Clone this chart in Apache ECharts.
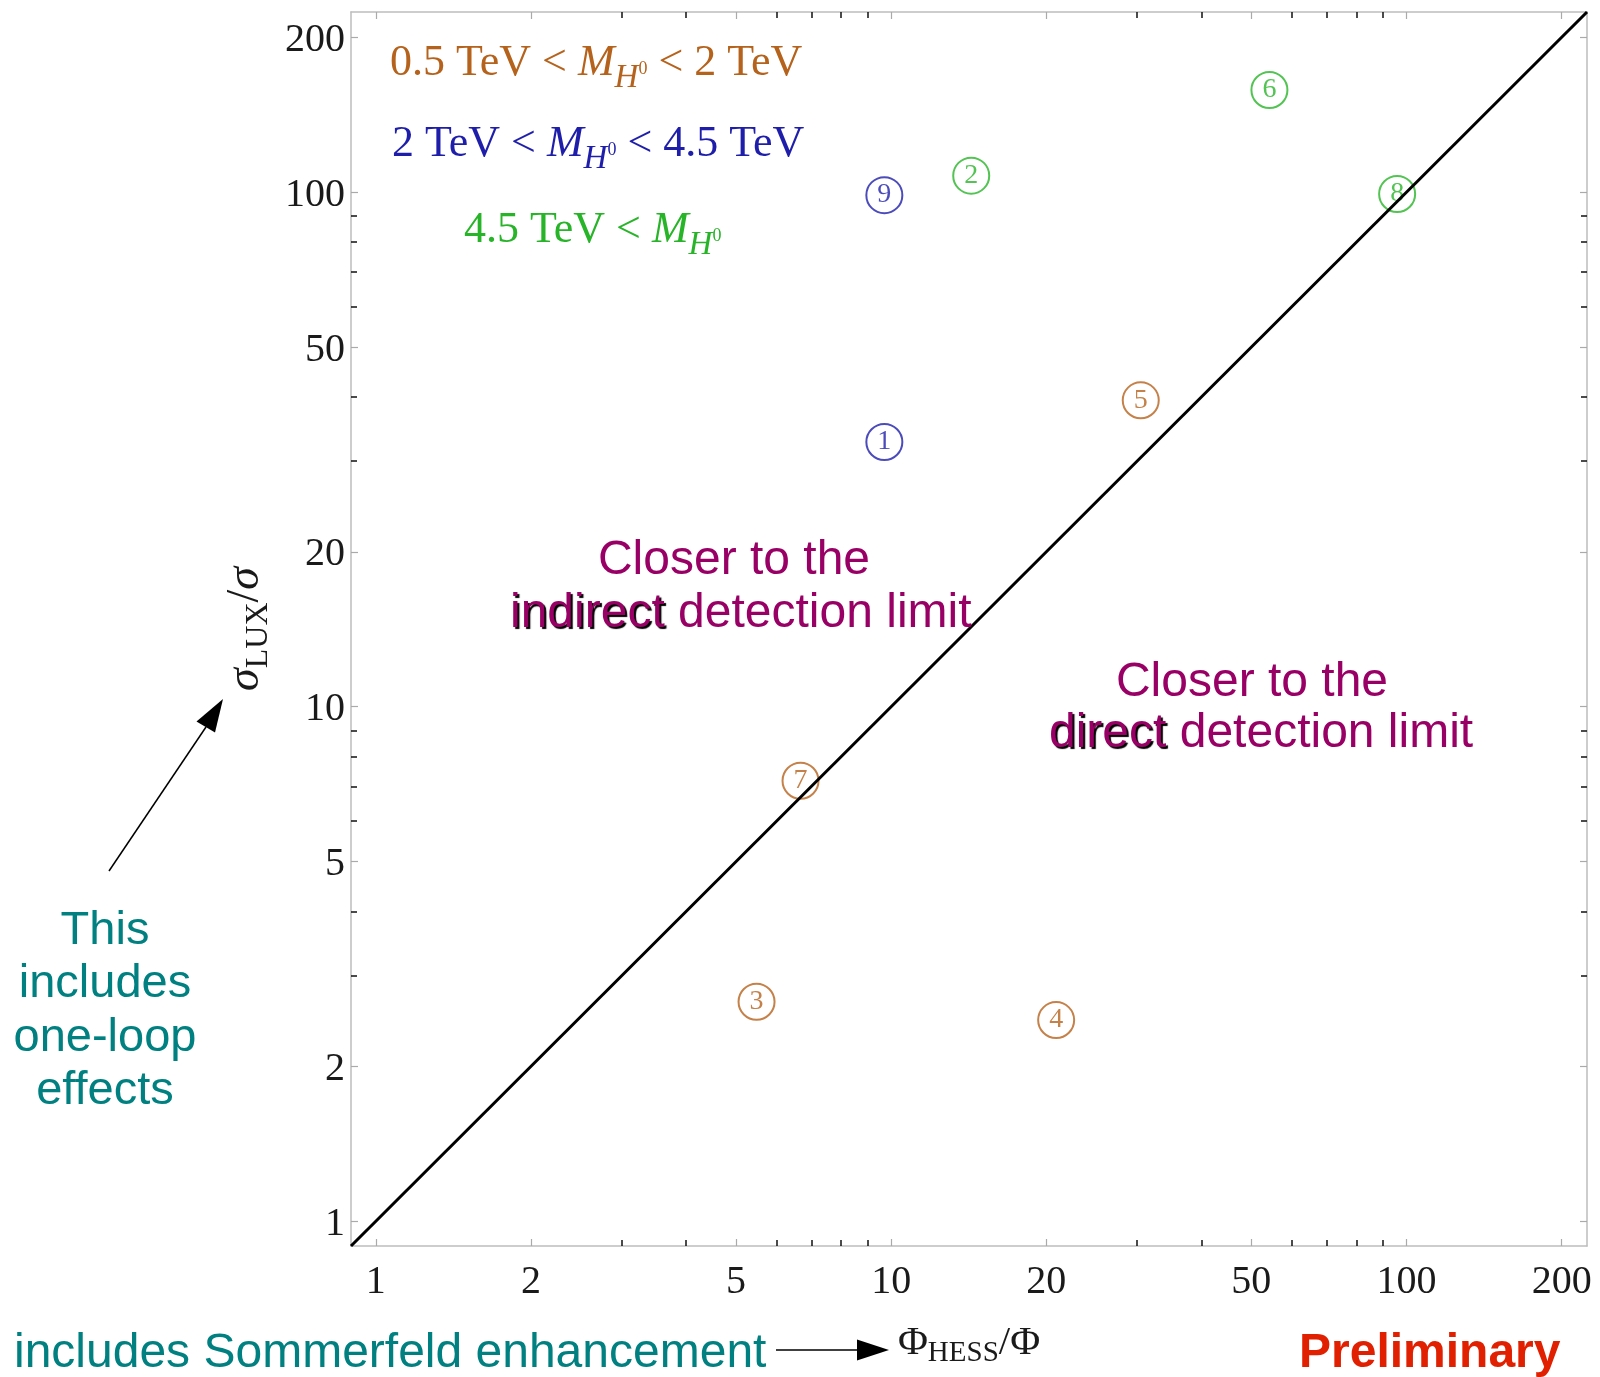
<!DOCTYPE html>
<html>
<head>
<meta charset="utf-8">
<script src="https://cdn.jsdelivr.net/npm/echarts@6/dist/echarts.min.js"></script>
<style>html,body{margin:0;padding:0;background:#fff}#c{width:1600px;height:1377px}</style>
</head>
<body>
<div id="c"></div>
<script>
// ---- data ----
const pointLabels = ['1','2','3','4','5','6','7','8','9'];
const phiRatio   = [9.7, 14.3, 5.48, 20.9, 30.5, 54.2, 6.67, 95.9, 9.7];
const sigmaRatio = [32.7, 107.7, 2.67, 2.46, 39.4, 158, 7.18, 99.2, 98.7];
const massRange  = ['mid','high','low','low','low','high','low','high','mid'];
const majorTicks = [1, 2, 5, 10, 20, 50, 100, 200];
const minorTicks = [3, 4, 6, 7, 8, 9, 30, 40, 60, 70, 80, 90];
const axisRange  = [0.895, 224];
const diagonal   = [0.895, 224];

const groupColors = { low: '#b5621c', mid: '#1e1eaa', high: '#28b428' };
const SERIF = '"Liberation Serif","Times New Roman",serif';
const SANS = '"Liberation Sans",Arial,sans-serif';

function groupData(g) {
  const out = [];
  for (let i = 0; i < pointLabels.length; i++) {
    if (massRange[i] === g) out.push([phiRatio[i], sigmaRatio[i], pointLabels[i]]);
  }
  return out;
}

function makeAxes(isX) {
  const base = { type: 'log', min: axisRange[0], max: axisRange[1], splitLine: { show: false } };
  const pos = isX ? ['bottom', 'top'] : ['left', 'right'];
  const frame = { show: true, lineStyle: { color: '#bdbdbd', width: 1.5 } };
  const axes = [];
  pos.forEach((p, k) => {
    axes.push(Object.assign({}, base, {
      position: p,
      axisLine: frame,
      axisTick: { show: true, inside: true, length: 7, customValues: majorTicks, lineStyle: { color: '#aaaaaa', width: 1.2 } },
      axisLabel: k === 0 ? (isX ? {
        show: true, customValues: majorTicks, fontFamily: SERIF, fontSize: 40, color: '#1a1a1a', margin: 16
      } : {
        show: true, customValues: majorTicks, fontFamily: SERIF, fontSize: 40, color: '#1a1a1a', margin: 6,
        verticalAlign: 'top', lineHeight: 6
      }) : { show: false }
    }, k === 0 ? (isX ? {
      name: '{p|Φ}{sub|HESS}{p|/Φ}', nameLocation: 'middle', nameGap: 72,
      nameTextStyle: { rich: {
        p: { fontFamily: SERIF, fontSize: 41, color: '#1a1a1a', lineHeight: 50 },
        sub: { fontFamily: SERIF, fontSize: 29, color: '#1a1a1a', lineHeight: 36, verticalAlign: 'bottom' }
      } }
    } : {
      name: '{s|σ}{sub|LUX}{p|/}{s|σ}', nameLocation: 'middle', nameGap: 71,
      nameTextStyle: { rich: {
        s: { fontFamily: SERIF, fontSize: 46, fontStyle: 'italic', color: '#1a1a1a', lineHeight: 56 },
        p: { fontFamily: SERIF, fontSize: 46, color: '#1a1a1a', lineHeight: 56 },
        sub: { fontFamily: SERIF, fontSize: 32, color: '#1a1a1a', lineHeight: 40, verticalAlign: 'bottom' }
      } }
    }) : {}));
    axes.push(Object.assign({}, base, {
      position: p,
      axisLine: { show: false },
      axisTick: { show: true, inside: true, length: 6, customValues: minorTicks, lineStyle: { color: '#111', width: 1.5 } },
      axisLabel: { show: false }
    }));
  });
  return axes;
}

function scatter(g) {
  const c = groupColors[g];
  return {
    type: 'scatter', xAxisIndex: 0, yAxisIndex: 0, data: groupData(g),
    symbol: 'circle', symbolSize: 36, z: 4,
    itemStyle: { color: 'rgba(255,255,255,0)', borderColor: c, borderWidth: 2 },
    label: { show: true, position: 'inside', formatter: p => p.value[2], fontFamily: SERIF, fontSize: 28, color: c, padding: [4, 0, 0, 0] }
  };
}

function legendText(x, y, pre, post, color) {
  const rich = {
    a: { fill: color, fontFamily: SERIF, fontSize: 44, lineHeight: 64 },
    m: { fill: color, fontFamily: SERIF, fontSize: 44, lineHeight: 64, fontStyle: 'italic' },
    h: { fill: color, fontFamily: SERIF, fontSize: 33, fontStyle: 'italic', lineHeight: 34, verticalAlign: 'bottom' },
    s: { fill: color, fontFamily: SERIF, fontSize: 18, lineHeight: 18, verticalAlign: 'middle', padding: [12, 0, 0, 0] }
  };
  let t = '';
  if (pre) t += '{a|' + pre + '}';
  t += '{m|M}{h|H}{s|0}';
  if (post) t += '{a|' + post + '}';
  return { type: 'text', x: x, y: y, z: 10, style: { text: t, rich: rich, align: 'left', verticalAlign: 'middle' } };
}

function purpleBlock(cx, y1, left2, y2, word) {
  const P = '#990066';
  return [
    { type: 'text', x: cx, y: y1, z: 10, style: { text: 'Closer to the', fill: P, fontFamily: SANS, fontSize: 48, align: 'center', verticalAlign: 'middle' } },
    { type: 'text', x: left2, y: y2, z: 10, style: {
      text: '{k|' + word + '}{p| detection limit}', align: 'left', verticalAlign: 'middle',
      rich: {
        k: { fill: P, fontFamily: SANS, fontSize: 48, lineHeight: 56, textShadowColor: '#000', textShadowOffsetX: 2, textShadowOffsetY: 2, textShadowBlur: 1 },
        p: { fill: P, fontFamily: SANS, fontSize: 48, lineHeight: 56 }
      } } }
  ];
}

const TEAL = '#008080';
const graphics = [
  legendText(390, 63, '0.5 TeV < ', ' < 2 TeV', groupColors.low),
  legendText(392, 144, '2 TeV < ', ' < 4.5 TeV', groupColors.mid),
  legendText(464, 230, '4.5 TeV < ', '', groupColors.high),
  ...purpleBlock(734, 561, 510, 614, 'indirect'),
  ...purpleBlock(1252, 683, 1049, 734, 'direct'),
  { type: 'text', x: 105, y: 1011, z: 10, style: { text: 'This\nincludes\none-loop\neffects', fill: TEAL, fontFamily: SANS, fontSize: 47, lineHeight: 53.3, align: 'center', verticalAlign: 'middle' } },
  { type: 'text', x: 14, y: 1354, z: 10, style: { text: 'includes Sommerfeld enhancement', fill: TEAL, fontFamily: SANS, fontSize: 48, align: 'left', verticalAlign: 'middle' } },
  { type: 'text', x: 1299, y: 1354, z: 10, style: { text: 'Preliminary', fill: '#e02000', fontFamily: SANS, fontSize: 48, fontWeight: 'bold', align: 'left', verticalAlign: 'middle' } },
  // arrow toward y-axis title
  { type: 'line', z: 10, shape: { x1: 109, y1: 871, x2: 206, y2: 727 }, style: { stroke: '#000', lineWidth: 1.5 } },
  { type: 'polygon', z: 10, shape: { points: [[223, 699], [215, 732.5], [196.5, 721.5]] }, style: { fill: '#000' } },
  // arrow toward x-axis title
  { type: 'line', z: 10, shape: { x1: 776, y1: 1350, x2: 860, y2: 1350 }, style: { stroke: '#000', lineWidth: 1.5 } },
  { type: 'polygon', z: 10, shape: { points: [[889, 1350], [857, 1339.5], [857, 1360.5]] }, style: { fill: '#000' } }
];

const chart = echarts.init(document.getElementById('c'), null, { renderer: 'canvas' });
chart.setOption({
  animation: false,
  backgroundColor: '#fff',
  grid: { left: 351, right: 13, top: 12, bottom: 131, containLabel: false, outerBoundsMode: 'none' },
  xAxis: makeAxes(true),
  yAxis: makeAxes(false),
  series: [
    { type: 'line', xAxisIndex: 0, yAxisIndex: 0, data: [[diagonal[0], diagonal[0]], [diagonal[1], diagonal[1]]],
      showSymbol: false, symbol: 'none', lineStyle: { color: '#000', width: 3 }, z: 5, silent: true },
    scatter('low'), scatter('mid'), scatter('high')
  ],
  graphic: graphics
});
</script>
</body>
</html>
